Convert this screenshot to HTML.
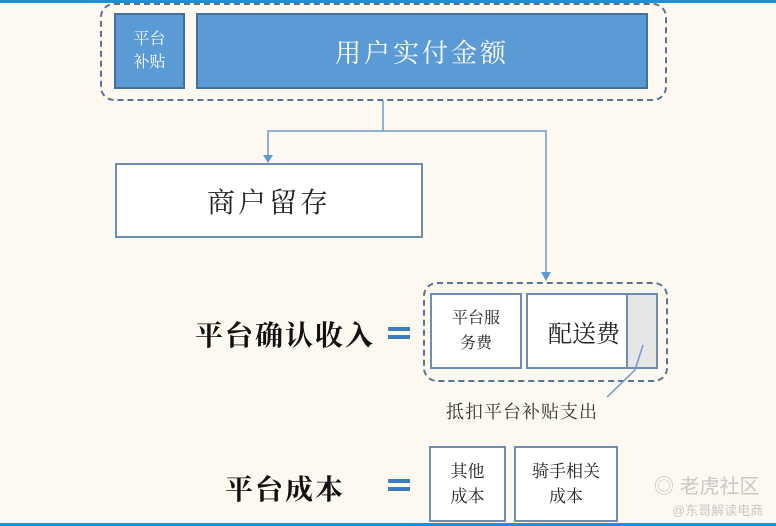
<!DOCTYPE html>
<html><head><meta charset="utf-8"><style>
body{margin:0;width:776px;height:526px;background:#fdf9f0;position:relative;overflow:hidden;font-family:"Liberation Serif","Noto Serif CJK SC",serif}
.a{position:absolute;box-sizing:border-box}
.blue{background:#5b9bd5;border:2px solid #41719c;color:#fff;display:flex;align-items:center;justify-content:center;text-align:center}
.w{background:#fff;border:2px solid #6f8db3;color:#222;display:flex;align-items:center;justify-content:center;text-align:center}
.dash{border:2px dashed #5a7394;border-radius:14px}
.eq{background:#3b7dc0;height:4px;width:22px}
</style></head><body>
<div class="a" style="left:0;top:0;width:776px;height:3px;background:#1d8fd6"></div>
<div class="a" style="left:0;top:523px;width:776px;height:3px;background:#1d8fd6"></div>
<div class="a dash" style="left:100px;top:3px;width:567px;height:98px"></div>
<div class="a blue" style="left:114px;top:13px;width:71px;height:76px;font-size:16px;line-height:23px">平台<br>补贴</div>
<div class="a blue" style="left:196px;top:13px;width:452px;height:76px;font-size:26px;letter-spacing:3px">用户实付金额</div>
<div class="a w" style="left:115px;top:163px;width:308px;height:75px;font-size:28px;letter-spacing:3px">商户留存</div>
<div class="a dash" style="left:423px;top:282px;width:245px;height:100px"></div>
<div class="a w" style="left:430px;top:293px;width:92px;height:76px;font-size:16px;line-height:25px">平台服<br>务费</div>
<div class="a w" style="left:526px;top:293px;width:132px;height:76px;font-size:24px;justify-content:flex-start;padding-left:20px;overflow:hidden">配送费<div class="a" style="left:98px;top:0;width:32px;height:72px;background:#e6e6e6;border-left:2px solid #6f8db3"></div></div>
<div class="a" style="left:446px;top:398px;font-size:18px;color:#333;letter-spacing:1px">抵扣平台补贴支出</div>
<div class="a" style="left:195px;top:314px;font-size:28px;font-weight:bold;color:#111;letter-spacing:2px">平台确认收入</div>
<div class="a eq" style="left:388px;top:327px"></div><div class="a eq" style="left:388px;top:335px"></div>
<div class="a" style="left:225px;top:468px;font-size:28px;font-weight:bold;color:#111;letter-spacing:2px">平台成本</div>
<div class="a eq" style="left:388px;top:479px"></div><div class="a eq" style="left:388px;top:487px"></div>
<div class="a w" style="left:429px;top:446px;width:77px;height:76px;font-size:17px;line-height:25px">其他<br>成本</div>
<div class="a w" style="left:514px;top:446px;width:104px;height:76px;font-size:17px;line-height:25px">骑手相关<br>成本</div>
<div class="a" style="left:654px;top:470px;font-size:20px;color:#c8c8c8;font-family:'Liberation Sans','Noto Sans CJK SC',sans-serif">◎ 老虎社区</div>
<div class="a" style="left:672px;top:500px;font-size:13px;color:#c8c8c8;font-family:'Liberation Sans','Noto Sans CJK SC',sans-serif">@东哥解读电商</div>
<svg class="a" style="left:0;top:0" width="776" height="526">
<g stroke="#6b9bd0" stroke-width="1.5" fill="none">
<path d="M383 101V131H268V157"/><path d="M383 131H546V274"/>
<path d="M643 345L635 370L607 397"/>
</g>
<path d="M263 155h10l-5 8z M541 272h10l-5 9z" fill="#5b9bd5"/>
</svg>
</body></html>
